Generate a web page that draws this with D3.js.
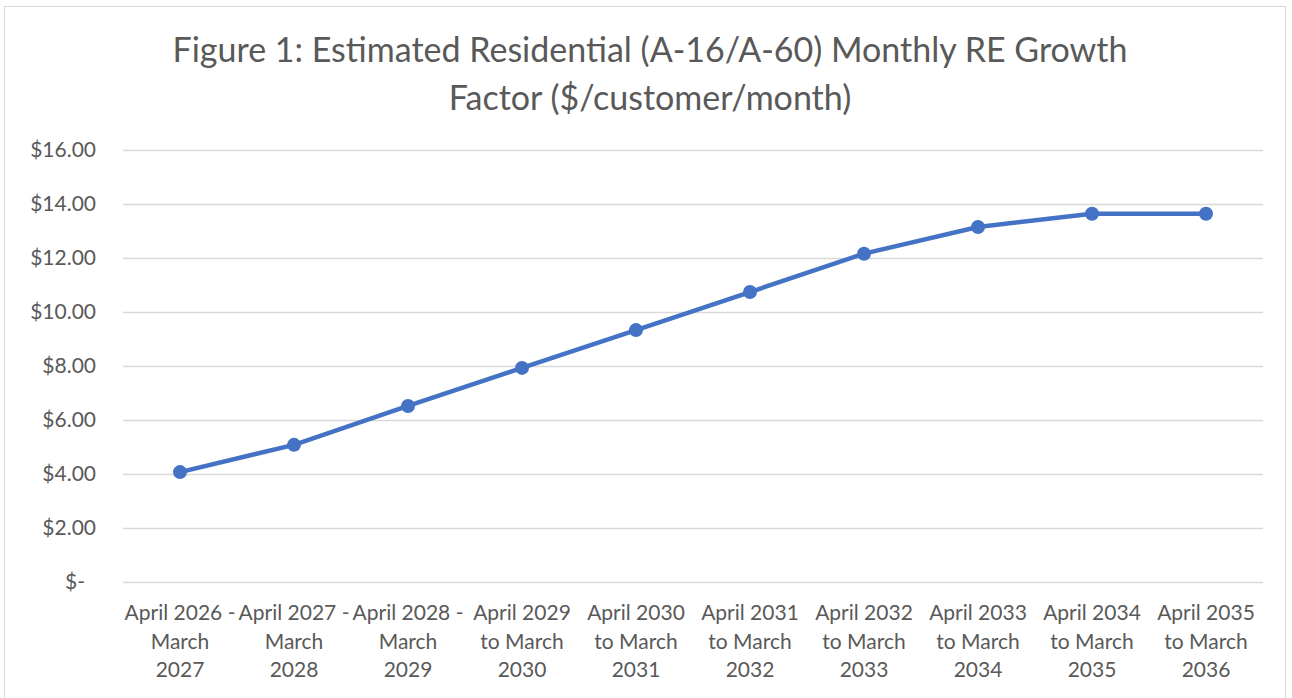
<!DOCTYPE html>
<html>
<head>
<meta charset="utf-8">
<script src="https://cdn.jsdelivr.net/npm/d3@7"></script>
<style>
  body { margin: 0; background: #fff; }
  svg { display: block; }
</style>
</head>
<body>
<div id="chart"></div>
<script>
// chart values
const periods = [
  ["April 2026 -", "March", "2027"],
  ["April 2027 -", "March", "2028"],
  ["April 2028 -", "March", "2029"],
  ["April 2029", "to March", "2030"],
  ["April 2030", "to March", "2031"],
  ["April 2031", "to March", "2032"],
  ["April 2032", "to March", "2033"],
  ["April 2033", "to March", "2034"],
  ["April 2034", "to March", "2035"],
  ["April 2035", "to March", "2036"]
];
const growthFactor = [4.07, 5.08, 6.52, 7.93, 9.33, 10.74, 12.16, 13.15, 13.64, 13.64];
const yTicks = [0, 2, 4, 6, 8, 10, 12, 14, 16];
const titleLines = ["Figure 1: Estimated Residential (A-16/A-60) Monthly RE Growth", "Factor ($/customer/month)"];

const W = 1292, H = 698;
const font = "Lato, 'Open Sans', sans-serif";
const textColor = "#595959";

var svg = d3.select("#chart").append("svg")
    .attr("width", W)
    .attr("height", H);

// outer chart border
svg.append("rect")
    .attr("x", 4.5).attr("y", 6.5)
    .attr("width", 1281).attr("height", 700)
    .attr("fill", "#fff")
    .attr("stroke", "#d9d9d9");

var margin = {top: 150, right: 29, bottom: 116, left: 123},
    width = W - margin.left - margin.right,
    height = H - margin.top - margin.bottom;

var x = d3.scaleBand().domain(d3.range(periods.length)).range([0, width]),
    y = d3.scaleLinear().domain([0, 16]).range([height, 0]);

// title
svg.append("g").selectAll("text")
    .data(titleLines)
  .enter().append("text")
    .attr("x", 650)
    .attr("y", function(d, i) { return 62 + i * 48; })
    .attr("text-anchor", "middle")
    .attr("font-family", font)
    .attr("font-size", 34)
    .attr("fill", textColor)
    .text(function(d) { return d; });

var chart = svg.append("g")
    .attr("transform", "translate(" + margin.left + "," + margin.top + ")");

// gridlines
chart.append("g")
    .attr("class", "grid")
    .call(d3.axisLeft(y).tickValues(yTicks).tickSize(-width).tickFormat(""))
    .call(function(g) { g.select(".domain").remove(); })
    .selectAll("line")
    .attr("stroke", "#d9d9d9")
    .attr("stroke-width", 1.3);

// y labels
chart.append("g")
    .selectAll("text")
    .data(yTicks)
  .enter().append("text")
    .attr("x", function(d) { return d === 0 ? -38 : -27; })
    .attr("y", function(d) { return y(d); })
    .attr("dy", "0.35em")
    .attr("text-anchor", "end")
    .attr("font-family", font)
    .attr("font-size", 21)
    .attr("fill", textColor)
    .text(function(d) { return d === 0 ? "$-" : "$" + d.toFixed(2); });

// x labels
var xl = chart.append("g")
    .selectAll("text")
    .data(periods)
  .enter().append("text")
    .attr("text-anchor", "middle")
    .attr("font-family", font)
    .attr("font-size", 21)
    .attr("fill", textColor)
    .attr("transform", function(d, i) { return "translate(" + (x(i) + x.bandwidth() / 2) + "," + (height + 38) + ")"; });

xl.selectAll("tspan")
    .data(function(d) { return d; })
  .enter().append("tspan")
    .attr("x", 0)
    .attr("y", function(d, i) { return i * 28.5; })
    .text(function(d) { return d; });

// line
var line = d3.line()
    .x(function(d, i) { return x(i) + x.bandwidth() / 2; })
    .y(function(d) { return y(d); });

chart.append("path")
    .datum(growthFactor)
    .attr("d", line)
    .attr("fill", "none")
    .attr("stroke", "#4472C4")
    .attr("stroke-width", 4.5)
    .attr("stroke-linejoin", "round");

chart.selectAll(".dot")
    .data(growthFactor)
  .enter().append("circle")
    .attr("class", "dot")
    .attr("cx", function(d, i) { return x(i) + x.bandwidth() / 2; })
    .attr("cy", function(d) { return y(d); })
    .attr("r", 7)
    .attr("fill", "#4472C4");
</script>
</body>
</html>
